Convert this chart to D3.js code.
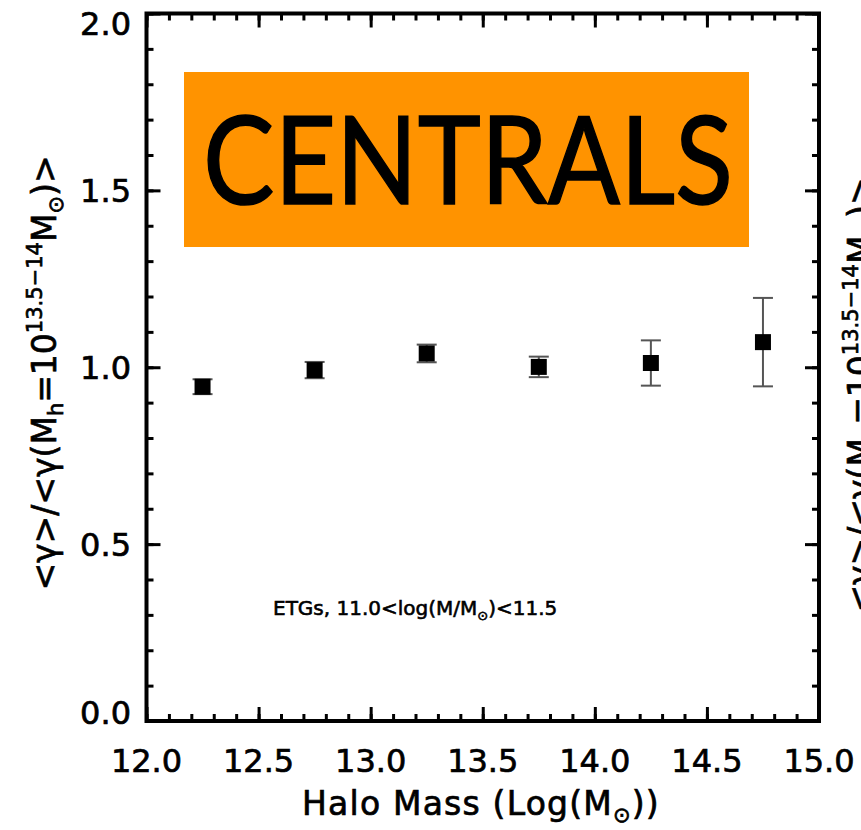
<!DOCTYPE html>
<html>
<head>
<meta charset="utf-8">
<script src="https://cdn.jsdelivr.net/npm/d3@7"></script>
<style>
  body { margin: 0; background: #fff; }
  svg { display: block; font-family: "DejaVu Sans", sans-serif; }
  .thick { stroke: #000; stroke-width: 0.7px; }
</style>
</head>
<body>
<div id="chart"></div>
<script>
// Dane (srodki binow masy halo)
const haloMass = [12.25, 12.75, 13.25, 13.75, 14.25, 14.75];
const gammaRatio = [0.945, 0.992, 1.039, 1.001, 1.012, 1.071];
const gammaErr = [0.021, 0.023, 0.025, 0.029, 0.064, 0.125];

// Podpisy osi
const xTicks = [12.0, 12.5, 13.0, 13.5, 14.0, 14.5, 15.0];
const yTicks = [0.0, 0.5, 1.0, 1.5, 2.0];
const panelTitle = "CENTRALS";
const sampleNote = "ETGs, 11.0<log(M/M";

const W = 861, H = 830;
const frame = { left: 146.5, right: 819, top: 13.5, bottom: 721 };

const svg = d3.select("#chart").append("svg")
  .attr("width", W)
  .attr("height", H);

const x = d3.scaleLinear().domain([12, 15]).range([frame.left, frame.right]);
const y = d3.scaleLinear().domain([0, 2]).range([frame.bottom, frame.top]);

// Kreski osi skierowane do srodka ramki
function tickAxis(axisFn, scale, values, size, transform) {
  const g = svg.append("g")
    .attr("transform", transform)
    .call(axisFn(scale).tickValues(values).tickSize(size).tickFormat(""));
  g.select(".domain").remove();
  g.selectAll("line").attr("stroke", "#000").attr("stroke-width", 3);
  return g;
}

const xMinor = x.ticks(30), yMinor = y.ticks(20);
tickAxis(d3.axisBottom, x, xMinor, -7, `translate(0,${frame.bottom})`);
tickAxis(d3.axisBottom, x, xTicks, -14, `translate(0,${frame.bottom})`);
tickAxis(d3.axisTop, x, xMinor, -7, `translate(0,${frame.top})`);
tickAxis(d3.axisTop, x, xTicks, -14, `translate(0,${frame.top})`);
tickAxis(d3.axisLeft, y, yMinor, -7, `translate(${frame.left},0)`);
tickAxis(d3.axisLeft, y, yTicks, -14, `translate(${frame.left},0)`);
tickAxis(d3.axisRight, y, yMinor, -7, `translate(${frame.right},0)`);
tickAxis(d3.axisRight, y, yTicks, -14, `translate(${frame.right},0)`);

// Ramka wykresu
svg.append("rect")
  .attr("x", frame.left).attr("y", frame.top)
  .attr("width", frame.right - frame.left)
  .attr("height", frame.bottom - frame.top)
  .attr("fill", "none")
  .attr("stroke", "#000")
  .attr("stroke-width", 4);

// Podpisy wartosci
svg.append("g").selectAll("text")
  .data(xTicks)
  .enter()
  .append("text")
  .attr("class", "thick")
  .attr("x", (d) => x(d))
  .attr("y", 772)
  .attr("text-anchor", "middle")
  .attr("font-size", 32)
  .text((d) => d.toFixed(1));

svg.append("g").selectAll("text")
  .data(yTicks)
  .enter()
  .append("text")
  .attr("class", "thick")
  .attr("x", 131)
  .attr("y", (d) => Math.min(Math.max(y(d), 23), 712) + 11.5)
  .attr("text-anchor", "end")
  .attr("font-size", 32)
  .text((d) => d.toFixed(1));

// Tytul osi X
const xTitle = svg.append("text")
  .attr("class", "thick")
  .attr("x", 481)
  .attr("y", 815)
  .attr("text-anchor", "middle")
  .attr("font-size", 33)
  .attr("letter-spacing", 1.2);
xTitle.append("tspan").text("Halo Mass (Log(M");
xTitle.append("tspan").attr("font-size", 21).attr("dy", 7).text("\u2299");
xTitle.append("tspan").attr("dy", -7).text("))");

// Tytul osi Y (dwa razy: nasz panel i uciety sasiedni)
function yTitle(tx, ty) {
  const t = svg.append("text")
    .attr("class", "thick")
    .attr("transform", `translate(${tx},${ty}) rotate(-90)`)
    .attr("text-anchor", "middle")
    .attr("font-size", 33);
  t.append("tspan").text("<\u03b3>/<\u03b3(M");
  t.append("tspan").attr("font-size", 21).attr("dy", 7).text("h");
  t.append("tspan").attr("dy", -7).text("=10");
  t.append("tspan").attr("font-size", 21).attr("dy", -14).text("13.5\u221214");
  t.append("tspan").attr("dy", 14).text("M");
  t.append("tspan").attr("font-size", 21).attr("dy", 7).text("\u2299");
  t.append("tspan").attr("dy", -7).text(")>");
}
yTitle(56, 373);
yTitle(872, 395);

// Slupki bledow
const pts = haloMass.map((m, i) => ({ m: m, v: gammaRatio[i], e: gammaErr[i] }));
const bars = svg.append("g")
  .attr("stroke", "#555")
  .attr("stroke-width", 2);
bars.selectAll("line.stem")
  .data(pts)
  .enter()
  .append("line")
  .attr("class", "stem")
  .attr("x1", (d) => x(d.m)).attr("x2", (d) => x(d.m))
  .attr("y1", (d) => y(d.v - d.e)).attr("y2", (d) => y(d.v + d.e));
bars.selectAll("line.capLo")
  .data(pts)
  .enter()
  .append("line")
  .attr("class", "capLo")
  .attr("x1", (d) => x(d.m) - 10).attr("x2", (d) => x(d.m) + 10)
  .attr("y1", (d) => y(d.v - d.e)).attr("y2", (d) => y(d.v - d.e));
bars.selectAll("line.capHi")
  .data(pts)
  .enter()
  .append("line")
  .attr("class", "capHi")
  .attr("x1", (d) => x(d.m) - 10).attr("x2", (d) => x(d.m) + 10)
  .attr("y1", (d) => y(d.v + d.e)).attr("y2", (d) => y(d.v + d.e));

// Punkty (kwadraty)
svg.append("g").selectAll("rect")
  .data(pts)
  .enter()
  .append("rect")
  .attr("x", (d) => x(d.m) - 8)
  .attr("y", (d) => y(d.v) - 8)
  .attr("width", 16)
  .attr("height", 16)
  .attr("fill", "#000");

// Etykieta "CENTRALS"
svg.append("rect")
  .attr("x", 184).attr("y", 72)
  .attr("width", 565).attr("height", 175)
  .attr("fill", "#ff9300");
svg.append("text")
  .attr("x", 203)
  .attr("y", 204)
  .attr("font-family", "Lato, sans-serif")
  .attr("font-size", 122)
  .attr("textLength", 530)
  .attr("lengthAdjust", "spacingAndGlyphs")
  .attr("stroke", "#000")
  .attr("stroke-width", 1.5)
  .attr("fill", "#000")
  .text(panelTitle);

// Opis probki
const note = svg.append("text")
  .attr("class", "thick")
  .attr("x", 273)
  .attr("y", 615)
  .attr("font-size", 20)
  .style("stroke-width", "0.6px");
note.append("tspan").text(sampleNote);
note.append("tspan").attr("font-size", 13).attr("dy", 5).text("\u2299");
note.append("tspan").attr("dy", -5).text(")<11.5");
</script>
</body>
</html>
